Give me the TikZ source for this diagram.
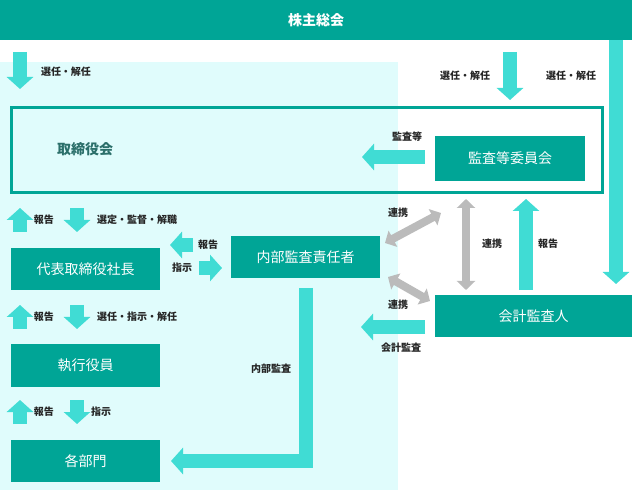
\documentclass[tikz,border=0pt]{standalone}
\usepackage{fontspec}
\setmainfont{Noto Sans CJK JP}
\usetikzlibrary{arrows.meta}
\definecolor{teal1}{HTML}{00A596}
\definecolor{cyanA}{HTML}{40DCD4}
\definecolor{bgc}{HTML}{E0FCFC}
\definecolor{dk}{HTML}{2B6F6A}
\definecolor{gr}{HTML}{BBBBBB}
\begin{document}
\begin{tikzpicture}[x=1pt,y=-1pt,
 box/.style={fill=teal1,text=white,font=\fontsize{14}{16}\selectfont,inner sep=0},
 lab/.style={font=\bfseries\fontsize{10}{12}\selectfont,text=black!85},
 ar/.style={draw=cyanA,line width=14pt,-{Triangle[width=26pt,length=12pt]}},
 ga/.style={draw=gr,line width=8pt,{Triangle[width=18pt,length=9pt]}-{Triangle[width=18pt,length=9pt]}}]
\useasboundingbox (0,0) rectangle (632,494);
\fill[bgc] (0,62) rectangle (398,490);
\fill[teal1] (0,0) rectangle (632,40);
\node[text=white,font=\bfseries\fontsize{14}{16}\selectfont] (top) at (316,20) {株主総会};
\draw[teal1,line width=2.5pt] (11.5,107.5) rectangle (602.5,192.5);
\node[text=dk,font=\bfseries\fontsize{14}{16}\selectfont] (board) at (85,149) {取締役会};
\node[box,minimum width=150pt,minimum height=45pt] (aud) at (510,158.5) {監査等委員会};
\node[box,minimum width=149pt,minimum height=42pt] (ceo) at (85.5,269) {代表取締役社長};
\node[box,minimum width=149pt,minimum height=42pt] (exe) at (85.5,365.5) {執行役員};
\node[box,minimum width=149pt,minimum height=42pt] (dep) at (85.5,461) {各部門};
\node[box,minimum width=149pt,minimum height=42pt] (ia) at (305.5,257) {内部監査責任者};
\node[box,minimum width=197pt,minimum height=42pt] (ext) at (533.5,316) {会計監査人};
% top arrows
\draw[ar] (20,52) -- (20,89);
\node[lab] (l1) at (66,72) {選任・解任};
\draw[ar] (510,52) -- (510,100);
\node[lab] (l2) at (465,76) {選任・解任};
\draw[ar] (616,40) -- (616,284);
\node[lab] (l3) at (571,76) {選任・解任};
\draw[ar] (aud.west|-0,157) ++(-10,0) coordinate (a1) -- (362,157);
\node[lab] (l4) at (407,137) {監査等};
% left column
\draw[ar] (20,232) -- (20,208);
\node[lab] at (44,220) {報告};
\draw[ar] (77,208) -- (77,232);
\node[lab] at (137,220) {選定・監督・解職};
\draw[ar] (20,329) -- (20,305);
\node[lab] at (44,317) {報告};
\draw[ar] (77,305) -- (77,329);
\node[lab] at (137,317) {選任・指示・解任};
\draw[ar] (20,424) -- (20,400);
\node[lab] at (44,412) {報告};
\draw[ar] (77,400) -- (77,424);
\node[lab] at (101,412) {指示};
\draw[ar] (193,245) -- (170,245);
\node[lab] at (208,245) {報告};
\draw[ar] (199,268) -- (222,268);
\node[lab] at (182,268) {指示};
% gray
\draw[ga] (385,243) -- (441,213);
\draw[ga] (466,199) -- (466,290);
\draw[ga] (388,277) -- (430,301);
\node[lab] at (398,213) {連携};
\node[lab] at (492,244) {連携};
\node[lab] at (398,305) {連携};
\draw[ar] (526,290) -- (526,199);
\node[lab] at (548,244) {報告};
\draw[ar] (425,327) -- (361,327);
\node[lab] at (401,348) {会計監査};
% internal audit
\draw[cyanA,line width=14pt,-{Triangle[width=26pt,length=12pt]}] (306,288) -- (306,461) -- (171,461);
\node[lab] at (271,369) {内部監査};
\end{tikzpicture}
\end{document}
